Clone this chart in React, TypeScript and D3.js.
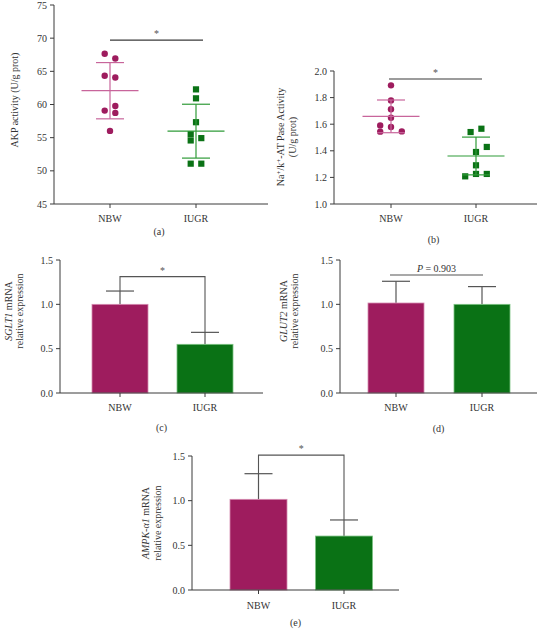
import React from "react";
import * as d3 from "d3";

// ---------- data ----------
const groups = ["NBW", "IUGR"];

// (a) AKP activity
const akpNBW = [67.64, 66.94, 64.34, 64.08, 59.78, 59.08, 58.73, 56.02];
const akpNBWCol = [-1, 1, -1, 1, 1, -1, 1, 0];
const akpIUGR = [62.28, 60.93, 57.33, 55.53, 54.93, 54.58, 51.08, 51.08];
const akpIUGRCol = [0, 0, 0, -1, 1, -1, -1, 1];
const akpMean = [62.08, 55.98];
const akpSD = [4.24, 4.06];
const akpTicks = [45, 50, 55, 60, 65, 70, 75];

// (b) Na+/K+-ATPase activity
const naNBW = [1.892, 1.779, 1.712, 1.649, 1.591, 1.579, 1.544, 1.546];
const naNBWCol = [0, 0, 0, 0, -2, 0, -2, 2];
const naIUGR = [1.541, 1.566, 1.429, 1.391, 1.291, 1.208, 1.226, 1.226];
const naIUGRCol = [-1, 1, 2, 0, 0, -2, 0, 2];
const naMean = [1.659, 1.361];
const naSD = [0.123, 0.142];
const naTicks = [1.0, 1.2, 1.4, 1.6, 1.8, 2.0];

// (c)-(e) mRNA relative expression
const barTicks = [0.0, 0.5, 1.0, 1.5];
const sglt1Mean = [1.0, 0.549];
const sglt1Err = [0.15, 0.135];
const glut2Mean = [1.015, 1.0];
const glut2Err = [0.245, 0.2];
const ampkMean = [1.015, 0.604];
const ampkErr = [0.287, 0.18];

// ---------- style ----------
const MAG = "#9e1c5e";
const MAG_LINE = "#c8659b";
const MAG_EDGE = "#d58ab0";
const GRN = "#0a7215";
const GRN_LINE = "#2f9b38";
const GRN_EDGE = "#7cc383";
const AXIS = "#3a3a3a";
const GREY = "#555";
const FONT = "'Liberation Serif', 'DejaVu Serif', serif";
const FS = 10;

type ScatterProps = {
  x0: number; x1: number; yTop: number; yBot: number;
  cx: [number, number]; domain: [number, number]; ticks: number[]; fmt: (v: number) => string;
  nbw: number[]; nbwCol: number[]; iugr: number[]; iugrCol: number[];
  mean: number[]; sd: number[]; colStep: number;
  meanHalf: number; capHalf: number;
  sigY: number; sigX: [number, number];
  catY: number; letter: string; letterY: number;
  ylabel: React.ReactNode;
};

function ScatterPanel(p: ScatterProps) {
  const y = d3.scaleLinear().domain(p.domain).range([p.yBot, p.yTop]);
  const x = d3.scalePoint<string>().domain(groups).range(p.cx);
  const sets = [
    { vals: p.nbw, cols: p.nbwCol, color: MAG, line: MAG_LINE, shape: "c" },
    { vals: p.iugr, cols: p.iugrCol, color: GRN, line: GRN_LINE, shape: "s" },
  ];
  return (
    <g fontFamily={FONT} fontSize={FS} fill="#333">
      <line x1={p.x0} x2={p.x0} y1={p.yTop} y2={p.yBot} stroke={AXIS} />
      <line x1={p.x0} x2={p.x1} y1={p.yBot} y2={p.yBot} stroke={AXIS} />
      {p.ticks.map((t) => (
        <g key={t}>
          <line x1={p.x0 - 4} x2={p.x0} y1={y(t)} y2={y(t)} stroke={AXIS} />
          <text x={p.x0 - 7} y={y(t)} dy="0.35em" textAnchor="end">{p.fmt(t)}</text>
        </g>
      ))}
      {groups.map((g) => (
        <g key={g}>
          <line x1={x(g)} x2={x(g)} y1={p.yBot} y2={p.yBot + 4} stroke={AXIS} />
          <text x={x(g)} y={p.catY} dy="0.35em" textAnchor="middle">{g}</text>
        </g>
      ))}
      <text x={(p.x0 + p.x1) / 2 - 2} y={p.letterY} dy="0.35em" textAnchor="middle">{p.letter}</text>
      {sets.map((s, i) => {
        const cx = x(groups[i])!;
        const m = p.mean[i], sd = p.sd[i];
        return (
          <g key={i}>
            {s.vals.map((v, j) => {
              const px = cx + s.cols[j] * p.colStep;
              return s.shape === "c" ? (
                <circle key={j} cx={px} cy={y(v)} r={3.2} fill={s.color} />
              ) : (
                <rect key={j} x={px - 3.1} y={y(v) - 3.1} width={6.2} height={6.2} fill={s.color} />
              );
            })}
            <g stroke={s.line} strokeWidth={1.2}>
              <line x1={cx - p.meanHalf} x2={cx + p.meanHalf} y1={y(m)} y2={y(m)} />
              <line x1={cx} x2={cx} y1={y(m + sd)} y2={y(m - sd)} />
              <line x1={cx - p.capHalf} x2={cx + p.capHalf} y1={y(m + sd)} y2={y(m + sd)} />
              <line x1={cx - p.capHalf} x2={cx + p.capHalf} y1={y(m - sd)} y2={y(m - sd)} />
            </g>
          </g>
        );
      })}
      <line x1={p.sigX[0]} x2={p.sigX[1]} y1={y(p.sigY)} y2={y(p.sigY)} stroke={AXIS} strokeWidth={1.1} />
      <text x={(p.sigX[0] + p.sigX[1]) / 2} y={y(p.sigY) - 3} textAnchor="middle" fontSize={10} fill="#555">*</text>
      {p.ylabel}
    </g>
  );
}

type BarProps = {
  x0: number; x1: number; yTop: number; yBot: number;
  cx: [number, number]; barW: number;
  mean: number[]; err: number[];
  bracket: "star" | "p"; bracketY: number; bracketX?: [number, number];
  catY: number; letter: string; letterY: number;
  ylabel: React.ReactNode;
};

function BarPanel(p: BarProps) {
  const y = d3.scaleLinear().domain([0, 1.5]).range([p.yBot, p.yTop]);
  const x = d3.scalePoint<string>().domain(groups).range(p.cx);
  const fills = [MAG, GRN];
  const edges = [MAG_EDGE, GRN_EDGE];
  const cN = x("NBW")!, cI = x("IUGR")!;
  return (
    <g fontFamily={FONT} fontSize={FS} fill="#333">
      {groups.map((g, i) => {
        const c = x(g)!;
        const top = p.mean[i] + p.err[i];
        return (
          <g key={g}>
            <line x1={c} x2={c} y1={y(p.mean[i])} y2={y(top)} stroke={GREY} strokeWidth={1.2} />
            <line x1={c - 14} x2={c + 14} y1={y(top)} y2={y(top)} stroke={GREY} strokeWidth={1.2} />
            <rect x={c - p.barW / 2} y={y(p.mean[i])} width={p.barW} height={y(0) - y(p.mean[i])}
              fill={fills[i]} stroke={edges[i]} strokeWidth={0.8} />
          </g>
        );
      })}
      <line x1={p.x0} x2={p.x0} y1={p.yTop} y2={p.yBot} stroke={AXIS} />
      <line x1={p.x0} x2={p.x1} y1={p.yBot} y2={p.yBot} stroke={AXIS} />
      {barTicks.map((t) => (
        <g key={t}>
          <line x1={p.x0 - 4} x2={p.x0} y1={y(t)} y2={y(t)} stroke={AXIS} />
          <text x={p.x0 - 7} y={y(t)} dy="0.35em" textAnchor="end">{t.toFixed(1)}</text>
        </g>
      ))}
      {groups.map((g) => (
        <g key={g}>
          <line x1={x(g)} x2={x(g)} y1={p.yBot} y2={p.yBot + 4} stroke={AXIS} />
          <text x={x(g)} y={p.catY} dy="0.35em" textAnchor="middle">{g}</text>
        </g>
      ))}
      <text x={(p.x0 + p.x1) / 2} y={p.letterY} dy="0.35em" textAnchor="middle">{p.letter}</text>
      {p.bracket === "star" ? (
        <g>
          <path
            d={`M${cN},${y(p.mean[0] + p.err[0])}V${y(p.bracketY)}H${cI}V${y(p.mean[1] + p.err[1])}`}
            fill="none" stroke={GREY} strokeWidth={1.1} />
          <text x={(cN + cI) / 2} y={y(p.bracketY) - 3} textAnchor="middle" fill="#555">*</text>
        </g>
      ) : (
        <g>
          <line x1={p.bracketX![0]} x2={p.bracketX![1]} y1={y(p.bracketY)} y2={y(p.bracketY)} stroke={GREY} strokeWidth={1.1} />
          <text x={(p.bracketX![0] + p.bracketX![1]) / 2} y={y(p.bracketY) - 3} textAnchor="middle">
            <tspan fontStyle="italic">P</tspan> = 0.903
          </text>
        </g>
      )}
      {p.ylabel}
    </g>
  );
}

function RotLabel({ x, y, children }: { x: number; y: number; children: React.ReactNode }) {
  return (
    <text transform={`translate(${x},${y}) rotate(-90)`} textAnchor="middle" dy="0.35em" fontFamily={FONT} fontSize={FS} fill="#333">
      {children}
    </text>
  );
}

export default function App() {
  return (
    <svg width={540} height={629} style={{ position: "absolute", left: 0, top: 0, background: "#fff" }}>
      <ScatterPanel
        x0={54} x1={268} yTop={5} yBot={204} cx={[110, 196]} domain={[45, 75]} ticks={akpTicks}
        fmt={(v) => String(v)} nbw={akpNBW} nbwCol={akpNBWCol} iugr={akpIUGR} iugrCol={akpIUGRCol}
        mean={akpMean} sd={akpSD} colStep={5.3} meanHalf={28.5} capHalf={14}
        sigY={69.7} sigX={[110, 203]} catY={218} letter="(a)" letterY={231}
        ylabel={<RotLabel x={14} y={100}>AKP activity (U/g prot)</RotLabel>}
      />
      <ScatterPanel
        x0={334} x1={537} yTop={71} yBot={204} cx={[391, 476]} domain={[1.0, 2.0]} ticks={naTicks}
        fmt={(v) => v.toFixed(1)} nbw={naNBW} nbwCol={naNBWCol} iugr={naIUGR} iugrCol={naIUGRCol}
        mean={naMean} sd={naSD} colStep={5.4} meanHalf={28.5} capHalf={14}
        sigY={1.94} sigX={[389, 482]} catY={218} letter="(b)" letterY={239}
        ylabel={
          <g>
            <text transform="translate(280,137) rotate(-90)" textAnchor="middle" dy="0.35em" fontFamily={FONT} fontSize={FS} fill="#333">
              Na<tspan dy={-3} fontSize={7}>+</tspan><tspan dy={3}>/k</tspan><tspan dy={-3} fontSize={7}>+</tspan><tspan dy={3}>-AT Pase Activity</tspan>
            </text>
            <RotLabel x={292} y={137}>(U/g prot)</RotLabel>
          </g>
        }
      />
      <BarPanel
        x0={60} x1={263} yTop={260} yBot={393} cx={[120, 205]} barW={56}
        mean={sglt1Mean} err={sglt1Err} bracket="star" bracketY={1.312}
        catY={407} letter="(c)" letterY={427}
        ylabel={
          <g>
            <RotLabel x={8} y={311}><tspan fontStyle="italic">SGLT1</tspan> mRNA</RotLabel>
            <RotLabel x={19} y={311}>relative expression</RotLabel>
          </g>
        }
      />
      <BarPanel
        x0={340} x1={537} yTop={260} yBot={393} cx={[396, 482]} barW={56}
        mean={glut2Mean} err={glut2Err} bracket="p" bracketY={1.33} bracketX={[390, 483]}
        catY={407} letter="(d)" letterY={428}
        ylabel={
          <g>
            <RotLabel x={283} y={311}><tspan fontStyle="italic">GLUT2</tspan> mRNA</RotLabel>
            <RotLabel x={294} y={311}>relative expression</RotLabel>
          </g>
        }
      />
      <BarPanel
        x0={192} x1={399} yTop={456} yBot={590} cx={[258.5, 344]} barW={57}
        mean={ampkMean} err={ampkErr} bracket="star" bracketY={1.51}
        catY={605} letter="(e)" letterY={622}
        ylabel={
          <g>
            <RotLabel x={145} y={523}><tspan fontStyle="italic">AMPK-α1</tspan> mRNA</RotLabel>
            <RotLabel x={157} y={523}>relative expression</RotLabel>
          </g>
        }
      />
    </svg>
  );
}
